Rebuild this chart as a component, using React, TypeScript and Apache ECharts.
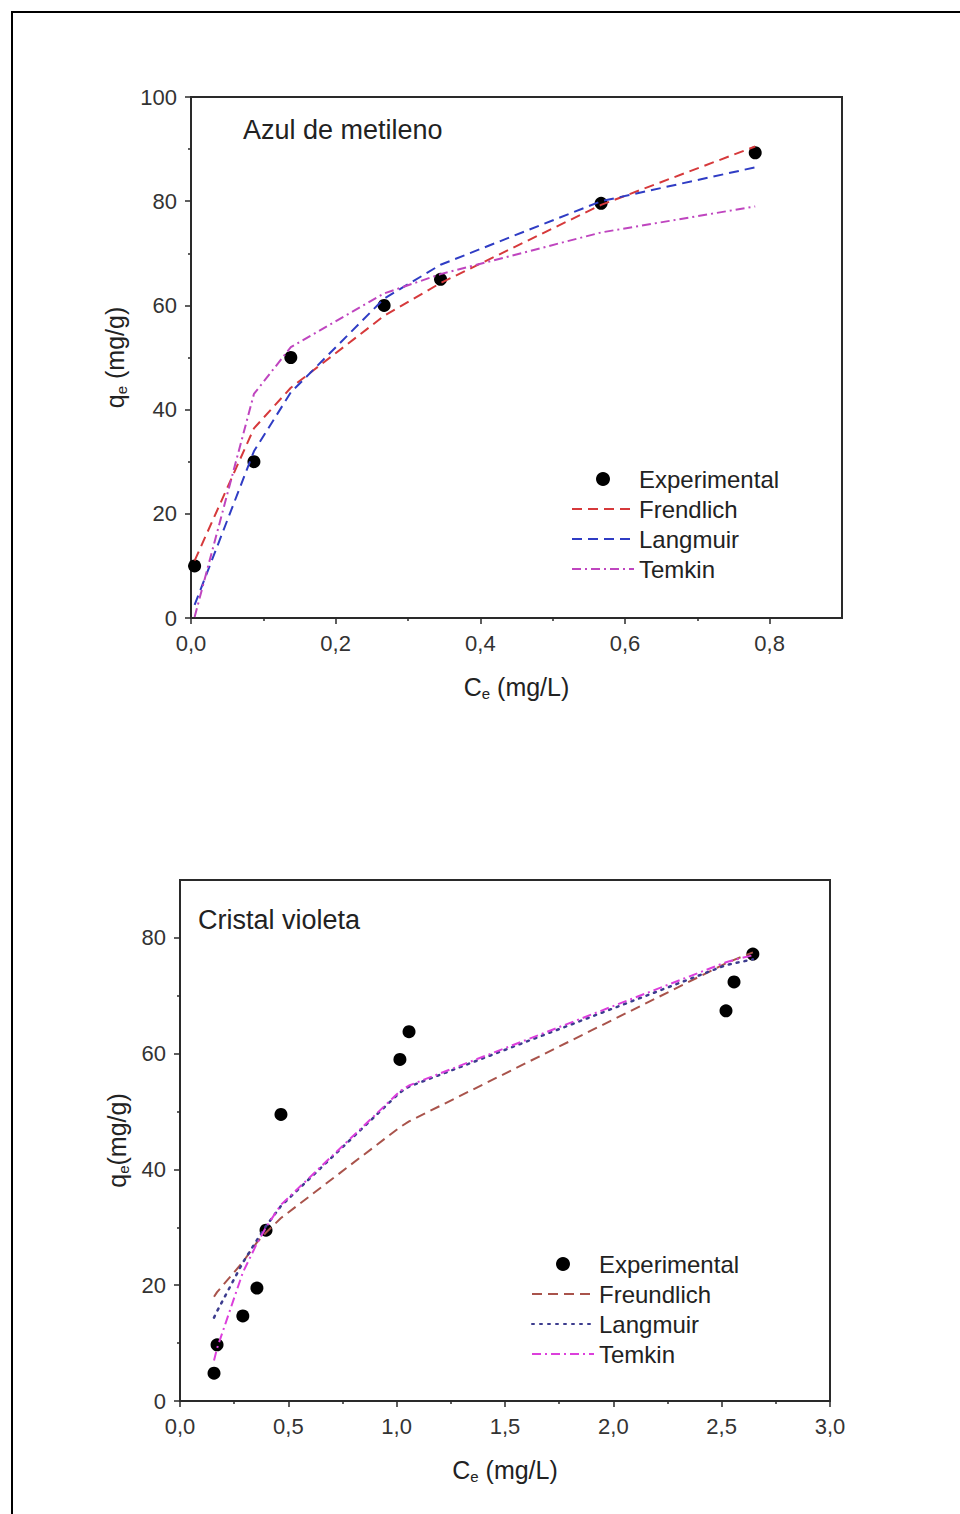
import React, { useEffect, useRef } from "react";
import * as echarts from "echarts";

// ---- Azul de metileno (top) ----
const mbCe = [0.005, 0.087, 0.138, 0.267, 0.345, 0.567, 0.78];
const mbQe = [10, 30, 50, 60, 65, 79.6, 89.3];
const mbFreundlich = [11.0, 36.4, 44.2, 58.0, 64.3, 79.3, 90.5];
const mbLangmuir = [2.5, 32.0, 43.3, 61.3, 67.8, 80.0, 86.5];
const mbTemkin = [0.2, 43.0, 52.0, 62.3, 66.0, 74.0, 79.0];

// ---- Cristal violeta (bottom) ----
const cvCe = [0.157, 0.171, 0.29, 0.355, 0.397, 0.466, 1.015, 1.057, 2.52, 2.557, 2.644];
const cvQe = [4.8, 9.7, 14.7, 19.5, 29.5, 49.5, 59.0, 63.8, 67.4, 72.4, 77.2];
const cvFreundlich = [18.0, 18.8, 24.0, 27.4, 29.1, 31.6, 47.3, 48.3, 75.6, 76.2, 77.5];
const cvLangmuir = [14.4, 15.5, 23.9, 27.8, 30.2, 33.7, 53.3, 54.3, 75.3, 75.6, 76.3];
const cvTemkin = [7.0, 9.1, 22.2, 27.2, 30.0, 33.9, 53.5, 54.5, 75.8, 76.2, 77.0];

// tick labels
const mbXTicks = [0, 0.2, 0.4, 0.6, 0.8];
const mbXMinor = [0.1, 0.3, 0.5, 0.7];
const cvYTicks = [0, 20, 40, 60, 80];
const cvYMinor = [10, 30, 50, 70];

const mbLegend = ["Experimental", "Frendlich", "Langmuir", "Temkin"];
const cvLegend = ["Experimental", "Freundlich", "Langmuir", "Temkin"];
const SUF = "#2";

const FONT = "'Liberation Sans', Arial, sans-serif";
const AX = "#2a2a2a";

const zip = (xs: number[], ys: number[]) => xs.map((x, i) => [x, ys[i]]);
const commaFmt = (v: number) => v.toFixed(1).replace(".", ",");

const labelStyle = { fontSize: 22, color: "#333", fontFamily: FONT };
const nameStyle = {
  fontSize: 25,
  color: "#222",
  fontFamily: FONT,
  lineHeight: 28,
  rich: { sub: { fontSize: 15, verticalAlign: "bottom", lineHeight: 15, fontFamily: FONT, color: "#222" } },
};
const axisLine = { show: true, onZero: false, lineStyle: { color: AX, width: 2 } };
const majorTick = (extra: any = {}) => ({ show: true, inside: false, length: 6, lineStyle: { color: AX, width: 1.5 }, ...extra });
const minorTickCfg = { show: true, splitNumber: 2, length: 3, lineStyle: { color: AX, width: 1.5 } };

const legendItems = (names: string[]) =>
  names.map((n, i) => (i === 0 ? { name: n } : { name: n, itemStyle: { opacity: 0 } }));

export default function App() {
  const ref = useRef<HTMLDivElement>(null);
  useEffect(() => {
    document.body.style.margin = "0";
    const chart = echarts.init(ref.current!, null, { renderer: "svg" });
    const legendText = { fontSize: 24, color: "#222", fontFamily: FONT };
    const option: any = {
      animation: false,
      backgroundColor: "#fff",
      grid: [
        { left: 191, top: 97, width: 651, height: 521, show: true, borderColor: AX, borderWidth: 2, backgroundColor: "transparent" },
        { left: 180, top: 880, width: 650, height: 521, show: true, borderColor: AX, borderWidth: 2, backgroundColor: "transparent" },
      ],
      xAxis: [
        {
          gridIndex: 0, type: "value", min: 0, max: 0.9, interval: 0.2, position: "bottom",
          axisLine, axisTick: majorTick({ customValues: mbXTicks }),
          axisLabel: { ...labelStyle, margin: 14, customValues: mbXTicks, formatter: commaFmt },
          splitLine: { show: false },
          name: "C{sub|e} (mg/L)", nameLocation: "middle", nameGap: 55, nameTextStyle: nameStyle,
        },
        {
          gridIndex: 0, type: "value", min: 0, max: 0.9, position: "bottom",
          axisLine: { show: false }, axisLabel: { show: false }, splitLine: { show: false },
          axisTick: { show: true, inside: false, length: 3, lineStyle: { color: AX, width: 1.5 }, customValues: mbXMinor },
        },
        {
          gridIndex: 1, type: "value", min: 0, max: 3, interval: 0.5, position: "bottom",
          axisLine, axisTick: majorTick(), minorTick: minorTickCfg,
          axisLabel: { ...labelStyle, margin: 14, formatter: commaFmt },
          splitLine: { show: false }, minorSplitLine: { show: false },
          name: "C{sub|e} (mg/L)", nameLocation: "middle", nameGap: 55, nameTextStyle: nameStyle,
        },
      ],
      yAxis: [
        {
          gridIndex: 0, type: "value", min: 0, max: 100, interval: 20, position: "left",
          axisLine, axisTick: majorTick(), minorTick: minorTickCfg,
          axisLabel: { ...labelStyle, margin: 14 },
          splitLine: { show: false }, minorSplitLine: { show: false },
          name: "q{sub|e} (mg/g)", nameLocation: "middle", nameRotate: 90, nameGap: 60, nameTextStyle: nameStyle,
        },
        {
          gridIndex: 1, type: "value", min: 0, max: 90, interval: 10, position: "left",
          axisLine, axisTick: majorTick({ customValues: cvYTicks }),
          axisLabel: { ...labelStyle, margin: 14, customValues: cvYTicks },
          splitLine: { show: false },
          name: "q{sub|e}(mg/g)", nameLocation: "middle", nameRotate: 90, nameGap: 49, nameTextStyle: nameStyle,
        },
        {
          gridIndex: 1, type: "value", min: 0, max: 90, position: "left",
          axisLine: { show: false }, axisLabel: { show: false }, splitLine: { show: false },
          axisTick: { show: true, inside: false, length: 3, lineStyle: { color: AX, width: 1.5 }, customValues: cvYMinor },
        },
      ],
      legend: [
        {
          data: legendItems(mbLegend), left: 566, top: 462, orient: "vertical", itemWidth: 62, itemHeight: 14, itemGap: 6,
          selectedMode: false, textStyle: legendText,
        },
        {
          data: legendItems(cvLegend.map((n) => n + SUF)), left: 526, top: 1247, orient: "vertical", itemWidth: 62, itemHeight: 14, itemGap: 6,
          selectedMode: false, textStyle: legendText,
          formatter: (n: string) => n.replace(SUF, ""),
        },
      ],
      graphic: [
        { type: "rect", shape: { x: 12, y: 12, width: 1000, height: 1600 }, style: { fill: "none", stroke: "#000", lineWidth: 2 }, silent: true },
        { type: "text", left: 243, top: 116, style: { text: "Azul de metileno", fontSize: 27, fill: "#222", fontFamily: FONT } },
        { type: "text", left: 198, top: 906, style: { text: "Cristal violeta", fontSize: 27, fill: "#222", fontFamily: FONT } },
      ],
      series: [
        {
          name: mbLegend[0], type: "scatter", xAxisIndex: 0, yAxisIndex: 0, data: zip(mbCe, mbQe),
          symbol: "circle", symbolSize: 13, itemStyle: { color: "#000", opacity: 1 }, z: 2,
        },
        {
          name: mbLegend[1], type: "line", xAxisIndex: 0, yAxisIndex: 0, data: zip(mbCe, mbFreundlich),
          symbol: "none", color: "#d6393b", lineStyle: { color: "#d6393b", width: 2, type: [10, 6] }, z: 3,
        },
        {
          name: mbLegend[2], type: "line", xAxisIndex: 0, yAxisIndex: 0, data: zip(mbCe, mbLangmuir),
          symbol: "none", color: "#2f3cc4", lineStyle: { color: "#2f3cc4", width: 2, type: [10, 6] }, z: 3,
        },
        {
          name: mbLegend[3], type: "line", xAxisIndex: 0, yAxisIndex: 0, data: zip(mbCe, mbTemkin),
          symbol: "none", color: "#bf45bf", lineStyle: { color: "#bf45bf", width: 2, type: [9, 4, 2, 4] }, z: 3,
        },
        {
          name: cvLegend[0] + SUF, type: "scatter", xAxisIndex: 2, yAxisIndex: 1, data: zip(cvCe, cvQe),
          symbol: "circle", symbolSize: 13, itemStyle: { color: "#000", opacity: 1 }, z: 2,
        },
        {
          name: cvLegend[1] + SUF, type: "line", xAxisIndex: 2, yAxisIndex: 1, data: zip(cvCe, cvFreundlich),
          symbol: "none", color: "#a9534b", lineStyle: { color: "#a9534b", width: 2, type: [10, 6] }, z: 3,
        },
        {
          name: cvLegend[2] + SUF, type: "line", xAxisIndex: 2, yAxisIndex: 1, data: zip(cvCe, cvLangmuir),
          symbol: "none", color: "#3c3c8e", lineStyle: { color: "#3c3c8e", width: 2.5, type: [2, 6], cap: "round" }, z: 3,
        },
        {
          name: cvLegend[3] + SUF, type: "line", xAxisIndex: 2, yAxisIndex: 1, data: zip(cvCe, cvTemkin),
          symbol: "none", color: "#dc3fdc", lineStyle: { color: "#dc3fdc", width: 2, type: [9, 4, 2, 4] }, z: 3,
        },
      ],
    };
    chart.setOption(option);
    return () => chart.dispose();
  }, []);
  return <div ref={ref} style={{ width: 960, height: 1514 }} />;
}
